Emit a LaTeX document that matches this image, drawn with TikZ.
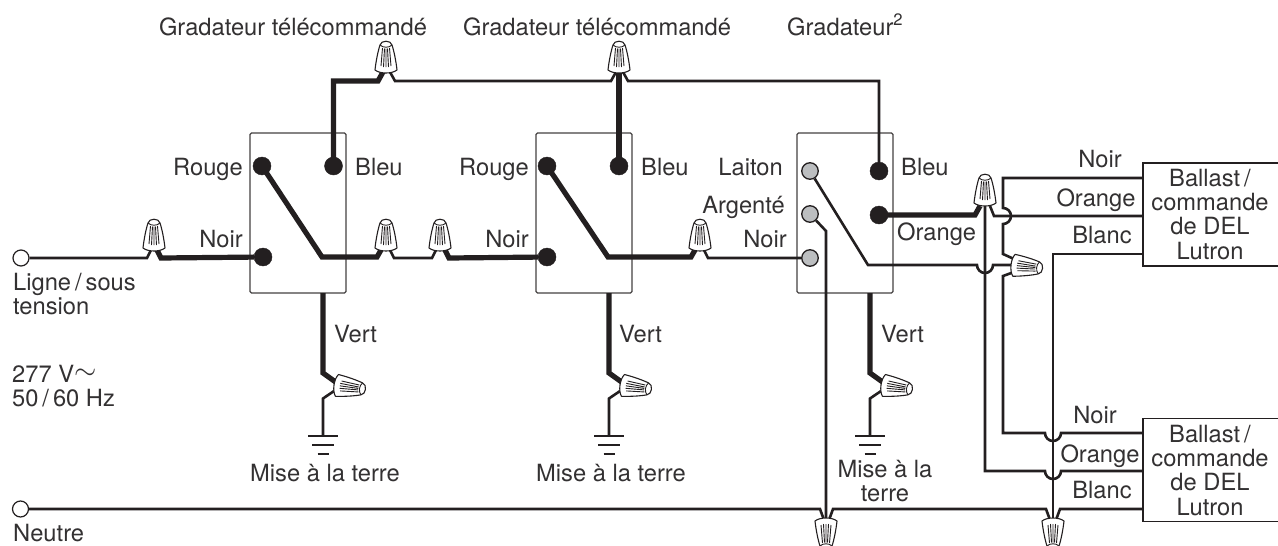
\documentclass[tikz,border=0pt]{standalone}
\usepackage{graphicx}
\usepackage{fontspec}
\setmainfont{TeX Gyre Heros}
\definecolor{ink}{HTML}{231F20}
\definecolor{txt}{HTML}{333132}
\definecolor{termgray}{HTML}{BCBEC0}
\tikzset{
  x=1pt,y=-1pt,
  thinw/.style={draw=ink,line width=2.6pt,line join=miter},
  thickw/.style={draw=ink,line width=5.2pt,line join=miter},
  devbox/.style={draw=ink!85,line width=1.3pt,rounded corners=1.5pt,minimum width=96pt,minimum height=160pt,inner sep=0pt},
  loadbox/.style={draw=ink,line width=1.6pt,minimum width=136pt,minimum height=103pt,inner sep=0pt},
  blackterm/.style={circle,fill=ink,draw=ink,line width=.4pt,minimum size=18pt,inner sep=0pt},
  grayterm/.style={circle,fill=termgray,draw=ink,line width=1.3pt,minimum size=16.5pt,inner sep=0pt},
  openterm/.style={circle,fill=white,draw=ink,line width=1.2pt,minimum size=16pt,inner sep=0pt},
  lbl/.style={text=txt,inner sep=0pt,font=\fontsize{23.7}{26}\selectfont},
  nut/.pic={
    \path[draw=ink,fill=white,line width=1.1pt,line join=round]
      (-11,-3) .. controls (-10,-12) and (-8,-22) .. (-6,-28)
      .. controls (-5,-33) and (5,-33) .. (6,-28)
      .. controls (8,-22) and (10,-12) .. (11,-3)
      .. controls (6,1) and (-6,1) .. (-11,-3) -- cycle;
    \draw[ink,line width=.9pt] (-6,-28) .. controls (-3,-25) and (3,-25) .. (6,-28);
    \draw[ink,line width=.9pt]
      (-5,-7)--(-3.5,-25) (-2.5,-6)--(-1.5,-24.5) (0,-6)--(0,-24.5)
      (2.5,-6)--(1.5,-24.5) (5,-7)--(3.5,-25);
  },
}
\begin{document}
\begin{tikzpicture}
\clip (0,0) rectangle (1278,546);
\fill[white] (0,0) rectangle (1278,546);
% devices
\node[devbox] (d1) at (298,213) {};
\node[devbox] (d2) at (584,213) {};
\node[devbox] (d3) at (845,213) {};
\node[loadbox] (l1) at (1211,214.5) {};
\node[loadbox] (l2) at (1211,470) {};
% terminals
\node[openterm] (line) at (21,258) {};
\node[openterm] (neutral) at (20.5,509) {};
\node[blackterm] (r1) at (262,166) {};
\node[blackterm] (b1) at (333.5,166) {};
\node[blackterm] (n1) at (263,257) {};
\node[blackterm] (r2) at (547,166) {};
\node[blackterm] (b2) at (619,166) {};
\node[blackterm] (n2) at (547,257) {};
\node[grayterm] (la3) at (810,171) {};
\node[grayterm] (ar3) at (810,214) {};
\node[grayterm] (n3) at (810,258) {};
\node[blackterm] (b3) at (879,171) {};
\node[blackterm] (o3) at (879,215) {};
% wires: line and switches
\draw[thinw] (line) -- (147,258) -- (151,250);
\draw[thickw] (n1) -- (161,258) -- (157,250);
\draw[thickw] (r1.center) -- (322,257) -- (377,257) -- (381,250);
\draw[thinw] (390,250) -- (394,258) -- (432,258) -- (436,250);
\draw[thickw] (n2) -- (449,258) -- (445,250);
\draw[thickw] (r2.center) -- (608,257) -- (691,257) -- (695,250);
\draw[thinw] (704,250) -- (708,258) -- (n3);
% traveller wires
\draw[thickw] (b1.center) -- (333.5,81) -- (378,81) -- (383,72);
\draw[thinw] (390,72) -- (395,81) -- (611,81) -- (616,72);
\draw[thickw] (b2.center) -- (619,72);
\draw[thinw] (623,72) -- (628,81) -- (879,81) -- (b3);
% dimmer
\draw[thinw] (la3) -- (868,265) -- (977,265) arc[start angle=180,end angle=0,radius=8] -- (1013,265);
\draw[thinw] (ar3) -- (826,231) -- (826,520);
\draw[thickw] (o3.center) -- (975,215) -- (980,206);
\draw[thinw] (985,206) -- (985,471) -- (1045,471) arc[start angle=180,end angle=0,radius=8] -- (l2.west |- 0,471);
\draw[thinw] (990,206) -- (994,216) -- (l1.west |- 0,216);
\draw[thinw] (l1.west |- 0,178) -- (1003,178) -- (1003,208) arc[start angle=-90,end angle=90,radius=8] -- (1003,254) -- (1014,259);
\draw[thinw] (1014,272) -- (1003,276) -- (1003,433) -- (1045,433) arc[start angle=180,end angle=0,radius=8] -- (l2.west |- 0,433);
\draw[thinw] (l1.west |- 0,254) -- (1053,254) -- (1053,520);
% neutral
\draw[thinw] (neutral) -- (820,509) -- (824,520);
\draw[thinw] (829,520) -- (833,509) -- (1046,509) -- (1050,520);
\draw[thinw] (1056,520) -- (1060,509) -- (l2.west |- 0,509);
% grounds
\foreach \gx/\gn in {323/g1,609/g2,870/g3}{
  \coordinate (\gn) at (\gx,436);
  \draw[thickw] (\gx,293) -- (\gx,373) -- (\gx+14,383);
  \draw[thinw] (\gx+14,389) -- (\gx,398.5) -- (\gn);
  \draw[ink,line width=2.4pt] (\gx-15,436) -- (\gx+15,436) (\gx-11,445) -- (\gx+11,445) (\gx-5.5,454) -- (\gx+5.5,454);
  \pic[rotate=-98] at (\gx+11,385) {nut};
}
% nuts
\pic at (154,251) {nut};
\pic at (386,251) {nut};
\pic at (440,251) {nut};
\pic at (700,251) {nut};
\pic at (386,73) {nut};
\pic at (619,73) {nut};
\pic at (985,206) {nut};
\pic[rotate=-96] at (1011,265) {nut};
\pic[rotate=180] at (826,518) {nut};
\pic[rotate=180] at (1053,518) {nut};
% labels
\node[lbl,anchor=base] (t1) at (293,35) {Gradateur télécommandé};
\node[lbl,anchor=base] (t2) at (597,35) {Gradateur télécommandé};
\node[lbl,anchor=base west] (t3) at (787,35) {Gradateur\textsuperscript{2}};
\node[lbl,anchor=base east] (a1) at (243,175) {Rouge};
\node[lbl,anchor=base west] (a2) at (355,175) {Bleu};
\node[lbl,anchor=base east] (a3) at (243,247) {Noir};
\node[lbl,anchor=base east] (a4) at (529,175) {Rouge};
\node[lbl,anchor=base west] (a5) at (641,175) {Bleu};
\node[lbl,anchor=base east] (a6) at (529,247) {Noir};
\node[lbl,anchor=base east] (a7) at (783,175) {Laiton};
\node[lbl,anchor=base east] (a8) at (785,213) {Argenté};
\node[lbl,anchor=base east] (a9) at (787,247) {Noir};
\node[lbl,anchor=base west] (a10) at (901,175) {Bleu};
\node[lbl,anchor=base west] (a11) at (897,240) {Orange};
\node[lbl,anchor=base west] (v1) at (334,342) {Vert};
\node[lbl,anchor=base west] (v2) at (619,342) {Vert};
\node[lbl,anchor=base west] (v3) at (881,342) {Vert};
\node[lbl,anchor=base west] (s1) at (13,290) {Ligne\,/\,sous};
\node[lbl,anchor=base west] (s2) at (13,314) {tension};
\node[lbl,anchor=base west] (s3) at (12,382) {277 V\raisebox{3pt}{\scalebox{1.15}{$\sim$}}};
\node[lbl,anchor=base west] (s4) at (12,406) {50\,/\,60 Hz};
\node[lbl,anchor=base] (m1) at (325,481) {Mise à la terre};
\node[lbl,anchor=base] (m2) at (611,481) {Mise à la terre};
\node[lbl,anchor=base] (m3) at (885,477) {Mise à la};
\node[lbl,anchor=base] (m4) at (885,501) {terre};
\node[lbl,anchor=base west] (s5) at (13,541) {Neutre};
\node[lbl,anchor=base] (w1) at (1100,167) {Noir};
\node[lbl,anchor=base] (w2) at (1096,206) {Orange};
\node[lbl,anchor=base] (w3) at (1102,243) {Blanc};
\node[lbl,anchor=base] (w4) at (1095,423) {Noir};
\node[lbl,anchor=base] (w5) at (1100,462) {Orange};
\node[lbl,anchor=base] (w6) at (1102,498) {Blanc};
\node[lbl,anchor=base] (b11) at (1210,186) {Ballast\,/};
\node[lbl,anchor=base] (b12) at (1210,210) {commande};
\node[lbl,anchor=base] (b13) at (1210,234) {de DEL};
\node[lbl,anchor=base] (b14) at (1210,259) {Lutron};
\node[lbl,anchor=base] (b21) at (1210,442) {Ballast\,/};
\node[lbl,anchor=base] (b22) at (1210,466) {commande};
\node[lbl,anchor=base] (b23) at (1210,490) {de DEL};
\node[lbl,anchor=base] (b24) at (1210,515) {Lutron};
\end{tikzpicture}
\end{document}
